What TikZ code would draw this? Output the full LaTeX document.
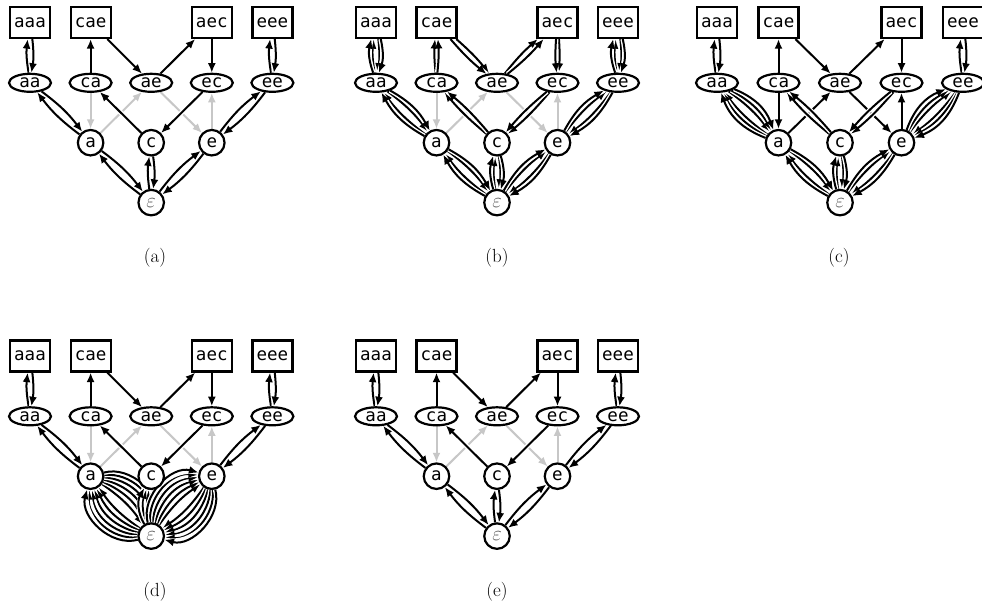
\documentclass[tikz,border=0pt]{standalone}
\usepackage{fontspec}
\newfontfamily\monofont{DejaVu Sans Mono}
\usetikzlibrary{shapes.geometric,arrows.meta}
\pgfdeclarelayer{edges}
\pgfsetlayers{edges,main}
\tikzset{
  nodefont/.style={font=\monofont\fontsize{17.5}{17.5}\selectfont},
  box/.style={nodefont, draw, line width=2.2pt, rectangle, minimum width=40pt, minimum height=31pt, inner sep=0pt, fill=white},
  oval/.style={nodefont, draw, line width=2.2pt, ellipse, minimum width=42pt, minimum height=18pt, inner sep=0pt, fill=white},
  circ/.style={nodefont, draw, line width=2.2pt, circle, minimum size=25.5pt, inner sep=0pt, fill=white},
  epsnode/.style={circ, text=black!65, font=\fontsize{21}{21}\selectfont},
  edge/.style={draw=black, line width=2pt, -{Latex[length=9.5pt,width=8pt]}, preaction={draw=white, line width=4.8pt, -}},
  gedge/.style={edge, draw=black!22},
  caption/.style={font=\fontsize{19}{19}\selectfont, inner sep=0pt}
}
\def\bstep{8}
% nodes of one panel: prefix, x of first column, y offset, column spacing
\newcommand\Graph[4]{%
  \node[box]  (#1-aaa) at ({#2+0*#4},{-(22.5+#3)}) {aaa};
  \node[box]  (#1-cae) at ({#2+1*#4},{-(22.5+#3)}) {cae};
  \node[box]  (#1-aec) at ({#2+3*#4},{-(22.5+#3)}) {aec};
  \node[box]  (#1-eee) at ({#2+4*#4},{-(22.5+#3)}) {eee};
  \node[oval] (#1-aa) at ({#2+0*#4},{-(82.8+#3)}) {aa};
  \node[oval] (#1-ca) at ({#2+1*#4},{-(82.8+#3)}) {ca};
  \node[oval] (#1-ae) at ({#2+2*#4},{-(82.8+#3)}) {ae};
  \node[oval] (#1-ec) at ({#2+3*#4},{-(82.8+#3)}) {ec};
  \node[oval] (#1-ee) at ({#2+4*#4},{-(82.8+#3)}) {ee};
  \node[circ] (#1-a) at ({#2+1*#4},{-(142.7+#3)}) {a};
  \node[circ] (#1-c) at ({#2+2*#4},{-(142.7+#3)}) {c};
  \node[circ] (#1-e) at ({#2+3*#4},{-(142.7+#3)}) {e};
  \node[epsnode] (#1-eps) at ({#2+2*#4},{-(202.6+#3)}) {$\varepsilon$};
}
% n edges each way between u and v
\newcommand\Bi[4]{%
  \foreach \k in {1,...,#4}{%
    \pgfmathsetmacro\bb{\k*\bstep}%
    \draw[edge] (#1-#2) to[bend left=\bb] (#1-#3);
    \draw[edge] (#1-#3) to[bend left=\bb] (#1-#2);
  }}
% n (1 or 2) edges from u to v
\newcommand\Mo[4]{%
  \ifnum#4=1 \draw[edge] (#1-#2) -- (#1-#3);%
  \else \draw[edge] (#1-#2) to[bend left=5] (#1-#3);
        \draw[edge] (#1-#2) to[bend right=5] (#1-#3);\fi}
\newcommand\Gray[1]{%
  \draw[gedge] (#1-ca) -- (#1-a);
  \draw[gedge] (#1-a) -- (#1-ae);
  \draw[gedge] (#1-ae) -- (#1-e);
  \draw[gedge] (#1-e) -- (#1-ec);}
\newcommand\Top[2]{% prefix, multiplicity
  \Bi{#1}{aa}{aaa}{#2}
  \Mo{#1}{ca}{cae}{#2}
  \Mo{#1}{cae}{ae}{#2}
  \Mo{#1}{ae}{aec}{#2}
  \Mo{#1}{aec}{ec}{#2}
  \Bi{#1}{ee}{eee}{#2}}
\begin{document}
\begin{tikzpicture}[x=1pt,y=1pt]
\useasboundingbox (0,0) rectangle (982,-615);
\Graph{A}{30}{0}{60.6}
\Graph{B}{376}{0}{60.5}
\Graph{C}{717}{0}{61.5}
\Graph{D}{30}{333.5}{60.6}
\Graph{E}{376}{333.5}{60.5}
\node[caption] (capA) at (155,-258) {(a)};
\node[caption] (capB) at (497,-258) {(b)};
\node[caption] (capC) at (839,-258) {(c)};
\node[caption] (capD) at (155,-591.5) {(d)};
\node[caption] (capE) at (497,-591.5) {(e)};
\begin{pgfonlayer}{edges}
% (a)
\Gray{A}
\Top{A}{1}
\Bi{A}{a}{aa}{1}
\Mo{A}{c}{ca}{1}
\Mo{A}{ec}{c}{1}
\Bi{A}{e}{ee}{1}
\Bi{A}{eps}{a}{1}
\Bi{A}{eps}{c}{1}
\Bi{A}{eps}{e}{1}
% (b)
\Gray{B}
\Top{B}{2}
\Bi{B}{a}{aa}{2}
\Mo{B}{c}{ca}{2}
\Mo{B}{ec}{c}{2}
\Bi{B}{e}{ee}{2}
\Bi{B}{eps}{a}{2}
\Bi{B}{eps}{c}{2}
\Bi{B}{eps}{e}{2}
% (c)
\Top{C}{1}
\Mo{C}{ca}{a}{1}
\Mo{C}{a}{ae}{1}
\Mo{C}{ae}{e}{1}
\Mo{C}{e}{ec}{1}
\Bi{C}{a}{aa}{3}
\Mo{C}{c}{ca}{2}
\Mo{C}{ec}{c}{2}
\Bi{C}{e}{ee}{3}
\Bi{C}{eps}{a}{2}
\Bi{C}{eps}{c}{2}
\Bi{C}{eps}{e}{2}
% (d)
\Gray{D}
\Top{D}{1}
\Bi{D}{a}{aa}{1}
\Mo{D}{c}{ca}{1}
\Mo{D}{ec}{c}{1}
\Bi{D}{e}{ee}{1}
\def\bstep{10}
\Bi{D}{eps}{a}{6}
\Bi{D}{eps}{c}{3}
\Bi{D}{eps}{e}{6}
\def\bstep{8}
% (e)
\Gray{E}
\Top{E}{1}
\Bi{E}{a}{aa}{1}
\Mo{E}{c}{ca}{1}
\Mo{E}{ec}{c}{1}
\Bi{E}{e}{ee}{1}
\Bi{E}{eps}{a}{1}
\Bi{E}{eps}{c}{1}
\Bi{E}{eps}{e}{1}
\end{pgfonlayer}
\end{tikzpicture}
\end{document}
